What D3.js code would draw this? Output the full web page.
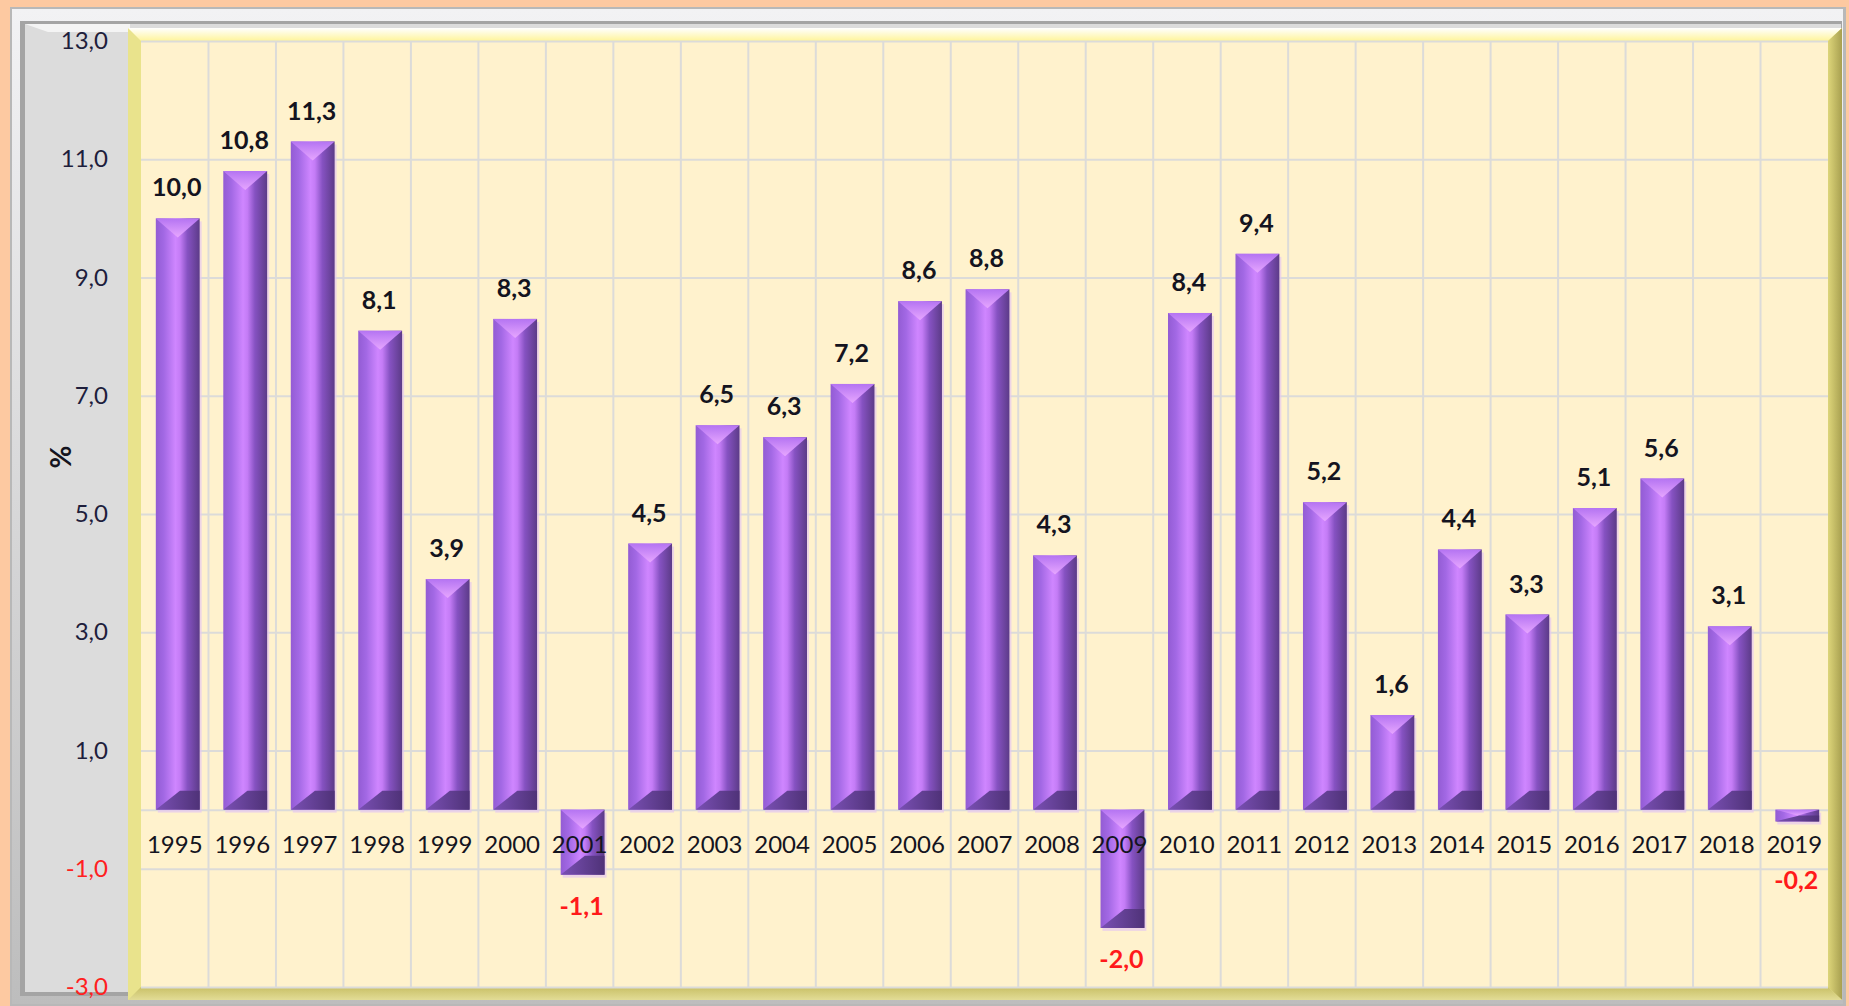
<!DOCTYPE html>
<html>
<head>
<meta charset="utf-8">
<script src="https://cdn.jsdelivr.net/npm/d3@7"></script>
<style>
  html, body { margin: 0; padding: 0; background: #fdc9a1; }
  svg { display: block; }
  .tick text { font-family: Lato, "Open Sans", sans-serif; }
</style>
</head>
<body>
<div id="chart"></div>
<script>
// données : croissance annuelle (%)
const years = ["1995", "1996", "1997", "1998", "1999", "2000", "2001", "2002", "2003", "2004",
  "2005", "2006", "2007", "2008", "2009", "2010", "2011", "2012", "2013", "2014",
  "2015", "2016", "2017", "2018", "2019"];
const growth = [10.0, 10.8, 11.3, 8.1, 3.9, 8.3, -1.1, 4.5, 6.5, 6.3,
  7.2, 8.6, 8.8, 4.3, -2.0, 8.4, 9.4, 5.2, 1.6, 4.4,
  3.3, 5.1, 5.6, 3.1, -0.2];
const yTicks = [13, 11, 9, 7, 5, 3, 1, -1, -3];
const yDomain = [-3, 13];
const yAxisTitle = "%";

const W = 1849, H = 1006;
const plot = { left: 141, right: 1828, top: 41, bottom: 987 };

// format français, tiret simple pour le signe
const fmt = v => d3.format(".1f")(v).replace(".", ",").replace("\u2212", "-");
const data = years.map((d, i) => ({ year: d, value: growth[i] }));

const svg = d3.select("#chart").append("svg")
  .attr("width", W)
  .attr("height", H);

const defs = svg.append("defs");

// dégradé horizontal des barres (effet 3D)
const barGrad = defs.append("linearGradient").attr("id", "barGrad")
  .attr("x1", "0%").attr("x2", "100%").attr("y1", "0%").attr("y2", "0%");
[["0%", "#935cd4"], ["18%", "#a268e4"], ["45%", "#cf86ff"], ["55%", "#c47cf6"],
 ["72%", "#8652c2"], ["100%", "#5c3b88"]].forEach(s => {
  barGrad.append("stop").attr("offset", s[0]).attr("stop-color", s[1]);
});
const topGrad = defs.append("linearGradient").attr("id", "topGrad")
  .attr("x1", "0%").attr("x2", "0%").attr("y1", "0%").attr("y2", "100%");
topGrad.append("stop").attr("offset", "0%").attr("stop-color", "#b474f2");
topGrad.append("stop").attr("offset", "100%").attr("stop-color", "#e7a6ff");
const botGrad = defs.append("linearGradient").attr("id", "botGrad")
  .attr("x1", "0%").attr("x2", "100%").attr("y1", "0%").attr("y2", "0%");
botGrad.append("stop").attr("offset", "0%").attr("stop-color", "#7a50b4");
botGrad.append("stop").attr("offset", "100%").attr("stop-color", "#4f3278");

// cadre
const frameGrad = defs.append("linearGradient").attr("id", "frameGrad")
  .attr("x1", "0%").attr("x2", "0%").attr("y1", "0%").attr("y2", "100%");
frameGrad.append("stop").attr("offset", "0%").attr("stop-color", "#f2f2f4");
frameGrad.append("stop").attr("offset", "100%").attr("stop-color", "#bdbdbd");
const topStrip = defs.append("linearGradient").attr("id", "topStrip")
  .attr("x1", "0%").attr("x2", "0%").attr("y1", "0%").attr("y2", "100%");
topStrip.append("stop").attr("offset", "0%").attr("stop-color", "#ffffff");
topStrip.append("stop").attr("offset", "100%").attr("stop-color", "#fff49a");
const rightStrip = defs.append("linearGradient").attr("id", "rightStrip")
  .attr("x1", "0%").attr("x2", "100%").attr("y1", "0%").attr("y2", "0%");
rightStrip.append("stop").attr("offset", "0%").attr("stop-color", "#ddd57a");
rightStrip.append("stop").attr("offset", "100%").attr("stop-color", "#a8a050");
const bottomStrip = defs.append("linearGradient").attr("id", "bottomStrip")
  .attr("x1", "0%").attr("x2", "0%").attr("y1", "0%").attr("y2", "100%");
bottomStrip.append("stop").attr("offset", "0%").attr("stop-color", "#c9c066");
bottomStrip.append("stop").attr("offset", "100%").attr("stop-color", "#e2dc96");

svg.append("rect").attr("x", 10).attr("y", 7).attr("width", 1836).attr("height", 999)
  .attr("fill", "#b8b8b8");
svg.append("rect").attr("x", 12).attr("y", 9).attr("width", 1831).attr("height", 995)
  .attr("fill", "url(#frameGrad)");
svg.append("rect").attr("x", 20).attr("y", 21).attr("width", 1822).attr("height", 975)
  .attr("fill", "#a4a4a4");
svg.append("rect").attr("x", 25).attr("y", 24).attr("width", 1816).attr("height", 968)
  .attr("fill", "#dcdcdc");
svg.append("polygon")
  .attr("points", "25,24 130,24 130,32 48,32")
  .attr("fill", "#f4f4f4");

// bordure jaune de la zone de traçage
svg.append("rect").attr("x", 128).attr("y", 28).attr("width", 1714).attr("height", 972)
  .attr("fill", "#e9e38c");
svg.append("polygon")
  .attr("points", `128,28 1842,28 ${plot.right},${plot.top} ${plot.left},${plot.top}`)
  .attr("fill", "url(#topStrip)");
svg.append("polygon")
  .attr("points", `1842,28 1842,1000 ${plot.right},${plot.bottom} ${plot.right},${plot.top}`)
  .attr("fill", "url(#rightStrip)");
svg.append("polygon")
  .attr("points", `128,1000 1842,1000 ${plot.right},${plot.bottom} ${plot.left},${plot.bottom}`)
  .attr("fill", "url(#bottomStrip)");
svg.append("rect").attr("x", plot.left).attr("y", plot.top)
  .attr("width", plot.right - plot.left).attr("height", plot.bottom - plot.top)
  .attr("fill", "#fff2cd");

// échelles
const x = d3.scaleBand()
  .domain(years)
  .range([plot.left, plot.right])
  .padding(0);

const y = d3.scaleLinear()
  .domain(yDomain)
  .range([plot.bottom, plot.top]);

// grille horizontale (+ ligne du zéro)
svg.append("g")
  .attr("transform", `translate(${plot.left},0)`)
  .call(d3.axisLeft(y).tickValues(yTicks.concat([0])).tickSize(-(plot.right - plot.left)).tickFormat(""))
  .call(g => g.select(".domain").remove())
  .selectAll("line")
  .attr("stroke", "#dcdbd9")
  .attr("stroke-width", 2);

// grille verticale (limites des catégories)
svg.append("g")
  .selectAll("line")
  .data(years.slice(0, -1))
  .enter()
  .append("line")
  .attr("x1", d => x(d) + x.bandwidth())
  .attr("x2", d => x(d) + x.bandwidth())
  .attr("y1", plot.top)
  .attr("y2", plot.bottom)
  .attr("stroke", "#dcdbd9")
  .attr("stroke-width", 2);

// barres
const barW = x.bandwidth() * 0.65;
const barX = d => x(d.year) + (x.bandwidth() - barW) / 2 + 3;

const bars = svg.append("g").selectAll("g.bar")
  .data(data)
  .enter()
  .append("g")
  .attr("class", "bar");

// légère ombre rosée sous la barre
bars.append("rect")
  .attr("x", d => barX(d) + 2)
  .attr("y", d => Math.min(y(d.value), y(0)) + 3)
  .attr("width", barW)
  .attr("height", d => Math.abs(y(d.value) - y(0)))
  .attr("fill", "#e6c8ef")
  .attr("opacity", 0.7);

bars.append("rect")
  .attr("x", barX)
  .attr("y", d => Math.min(y(d.value), y(0)))
  .attr("width", barW)
  .attr("height", d => Math.abs(y(d.value) - y(0)))
  .attr("fill", "url(#barGrad)");

// biseau haut (clair) et bas (foncé)
bars.append("polygon")
  .attr("points", d => {
    const t = Math.min(y(d.value), y(0));
    const h = Math.abs(y(d.value) - y(0));
    const b = Math.min(19, h / 2);
    const x0 = barX(d);
    return `${x0},${t} ${x0 + barW},${t} ${x0 + barW / 2},${t + b}`;
  })
  .attr("fill", "url(#topGrad)");

bars.append("polygon")
  .attr("points", d => {
    const bt = Math.max(y(d.value), y(0));
    const h = Math.abs(y(d.value) - y(0));
    const b = Math.min(19, h / 2);
    const x0 = barX(d);
    return `${x0},${bt} ${x0 + barW},${bt} ${x0 + barW},${bt - b} ${x0 + barW * 0.55},${bt - b}`;
  })
  .attr("fill", "url(#botGrad)");

// étiquettes de valeurs
svg.append("g").selectAll("text")
  .data(data)
  .enter()
  .append("text")
  .attr("x", d => barX(d) + barW / 2 - 1)
  .attr("y", d => d.value >= 0 ? y(d.value) - 22 : Math.max(y(d.value) + 40, y(0) + 79))
  .attr("text-anchor", "middle")
  .style("font-family", "Lato, 'Open Sans', sans-serif")
  .style("font-weight", "bold")
  .style("font-size", "25px")
  .attr("fill", d => d.value >= 0 ? "#141420" : "#ff1a1a")
  .text(d => fmt(d.value));

// axe Y
svg.append("g")
  .attr("transform", `translate(${plot.left},0)`)
  .call(d3.axisLeft(y).tickValues(yTicks).tickSize(0).tickPadding(33).tickFormat(fmt))
  .call(g => g.select(".domain").remove())
  .selectAll("text")
  .style("font-size", "24px")
  .attr("fill", d => d < 0 ? "#ff2020" : "#1e1e3c");

// axe X (années au niveau du zéro)
svg.append("g")
  .attr("transform", `translate(0,${y(0)})`)
  .call(d3.axisBottom(x).tickSize(0).tickPadding(26))
  .call(g => g.select(".domain").remove())
  .selectAll("text")
  .style("font-size", "24px")
  .attr("fill", "#141420");

// titre de l'axe Y
svg.append("text")
  .attr("transform", "translate(61,457) rotate(-90)")
  .attr("text-anchor", "middle")
  .attr("dy", "0.35em")
  .style("font-family", "Lato, 'Open Sans', sans-serif")
  .style("font-weight", "bold")
  .style("font-size", "28px")
  .attr("fill", "#141420")
  .text(yAxisTitle);
</script>
</body>
</html>
